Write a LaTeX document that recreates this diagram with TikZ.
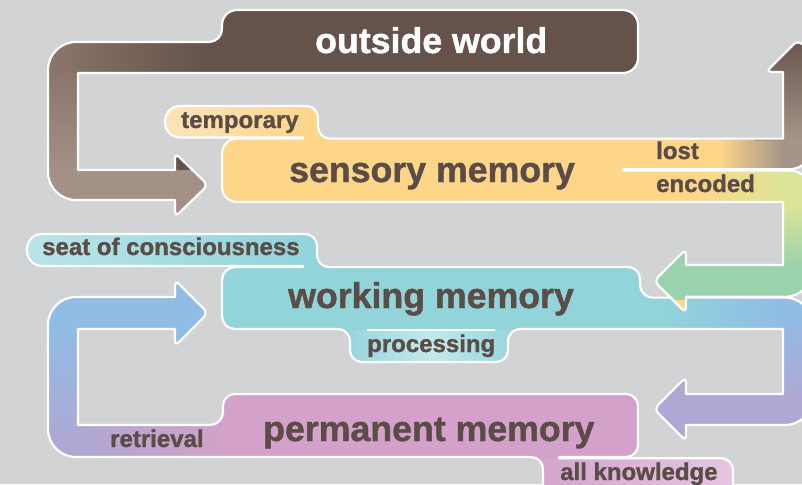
\documentclass[tikz,border=0pt]{standalone}
\usepackage{fontspec}
\setmainfont{Liberation Sans}[BoldFeatures={FakeBold=1.2}]
\definecolor{bg}{HTML}{D2D3D5}
\definecolor{brownD}{HTML}{65524A}
\definecolor{brownM}{HTML}{8A766B}
\definecolor{brownL}{HTML}{A39187}
\definecolor{sens}{HTML}{FDD68A}
\definecolor{tempL}{HTML}{FCE5BC}
\definecolor{lostL}{HTML}{A69489}
\definecolor{encY}{HTML}{DCE597}
\definecolor{grn}{HTML}{99D2AC}
\definecolor{teal}{HTML}{91D4DA}
\definecolor{seatL}{HTML}{BBE5E9}
\definecolor{procA}{HTML}{98D6DB}
\definecolor{procL}{HTML}{C3E8EB}
\definecolor{blu}{HTML}{90BCE6}
\definecolor{lav}{HTML}{AEA8D4}
\definecolor{pnk}{HTML}{D3A1C9}
\definecolor{akA}{HTML}{D5A6CC}
\definecolor{akL}{HTML}{E6C6E0}
\definecolor{txt}{HTML}{5B4C47}
\begin{document}
\begin{tikzpicture}[x=1pt,y=-1pt,
  outl/.style={draw=white, line width=2.2pt, line join=round},
  lbl/.style={anchor=base west, inner sep=0pt, text=txt, font=\bfseries\fontsize{24}{28}\selectfont},
  big/.style={anchor=base west, inner sep=0pt, text=txt, font=\bfseries\fontsize{35.7}{40}\selectfont},
  brownfill/.style={path picture={
     \fill[brownD] (0,0) rectangle (850,500);
     \shade[left color=brownM, right color=brownD] (48,30) rectangle (205,73.5);
     \shade[top color=brownM, bottom color=brownL] (40,73.5) rectangle (78,170);
     \fill[brownL] (40,170) rectangle (215,225);
  }},
  sensfill/.style={path picture={
     \fill[sens] (0,0) rectangle (850,500);
     \shade[left color=tempL, right color=sens] (160,100) rectangle (312,138);
     \shade[left color=sens, right color=lostL] (720,130) rectangle (783,169.9);
     \fill[lostL] (783,138) rectangle (840,169.9);
     \shade[top color=brownD, bottom color=lostL] (755,35) rectangle (840,140);
     \shade[left color=sens, right color=encY] (700,169.9) rectangle (783,205);
     \fill[grn] (640,240) rectangle (840,300);
     \fill[encY] (783,169.9) rectangle (840,202);
     \shade[top color=encY, bottom color=grn] (783,202) rectangle (840,268);
  }},
  wmfill/.style={path picture={
     \fill[teal] (0,0) rectangle (850,500);
     \shade[left color=seatL, right color=teal] (20,228) rectangle (312,266.5);
     \shade[left color=procA, right color=procA, middle color=procL] (350,330.5) rectangle (510,365);
     \shade[left color=teal, right color=blu] (665,290) rectangle (783,335);
     \fill[blu] (783,290) rectangle (840,312);
     \shade[top color=blu, bottom color=lav] (783,312) rectangle (840,400);
     \fill[lav] (640,370) rectangle (783,450);
     \fill[lav] (783,400) rectangle (840,450);
  }},
  permfill/.style={path picture={
     \fill[pnk] (0,0) rectangle (850,500);
     \fill[blu] (40,270) rectangle (215,350);
     \shade[top color=blu, bottom color=lav] (40,329) rectangle (78,440);
     \fill[lav] (40,440) rectangle (78,460);
     \shade[left color=lav, right color=pnk] (78,420) rectangle (222,460);
     \shade[left color=akA, right color=akL] (543,458.5) rectangle (735,500);
  }}
]
\useasboundingbox (0,0) rectangle (802,484);
\clip (0,0) rectangle (802,484);
\fill[bg] (0,0) rectangle (802,484);

% outside world + arrow to sensory memory
\path[outl, brownfill] (400,10)
  [rounded corners=15pt] -- (638,10)
  [rounded corners=15pt] -- (638,73)
  [sharp corners] -- (78,73) -- (78,170) -- (175,170)
  [rounded corners=5pt] -- (175,153)
  [rounded corners=6pt] -- (208,185)
  [rounded corners=5pt] -- (175,217)
  [sharp corners] -- (175,200)
  [rounded corners=28pt] -- (48,200)
  [rounded corners=28pt] -- (48,42)
  [rounded corners=13pt] -- (222,42)
  [rounded corners=15pt] -- (222,10)
  [sharp corners] -- cycle;

% working memory + blue arrow
\path[outl, wmfill] (150,234)
  [rounded corners=12pt] -- (317,234)
  [rounded corners=12pt] -- (317,267.1)
  [rounded corners=12pt] -- (640,267.1)
  [rounded corners=13pt] -- (640,297.6)
  [rounded corners=28pt] -- (813,297.6)
  [rounded corners=28pt] -- (813,425)
  [sharp corners] -- (686,425)
  [rounded corners=5pt] -- (686,441)
  [rounded corners=6pt] -- (654,409)
  [rounded corners=5pt] -- (686,377)
  [sharp corners] -- (686,394) -- (783,394) -- (783,329)
  [rounded corners=12pt] -- (508,329)
  [rounded corners=12pt] -- (508,362)
  [rounded corners=12pt] -- (350,362)
  [rounded corners=12pt] -- (350,329)
  [rounded corners=13pt] -- (222,329)
  [rounded corners=13pt] -- (222,267.1)
  [sharp corners] -- (303,267.1) -- (303,265.9)
  [rounded corners=15pt] -- (27,265.9)
  [rounded corners=15pt] -- (27,234)
  [sharp corners] -- cycle;
\draw[white, line width=2.8pt] (367,330) -- (495,330);

% sensory memory + lost + encoded
\path[outl, sensfill] (250,106)
  [rounded corners=12pt] -- (318,106)
  [rounded corners=12pt] -- (318,138.6)
  [sharp corners] -- (783,138.6) -- (783,72)
  [rounded corners=5pt] -- (766,72)
  [rounded corners=6pt] -- (798,40)
  [rounded corners=5pt] -- (830,72)
  [sharp corners] -- (813,72)
  [rounded corners=24pt] -- (813,169.3)
  [sharp corners] -- (623,169.3) -- (623,170.5)
  [rounded corners=24pt] -- (813,170.5)
  [rounded corners=28pt] -- (813,296.8)
  [sharp corners] -- (686,296.8)
  [rounded corners=5pt] -- (686,313)
  [rounded corners=6pt] -- (654,281)
  [rounded corners=5pt] -- (686,249)
  [sharp corners] -- (686,265) -- (783,265) -- (783,202)
  [rounded corners=15pt] -- (222,202)
  [rounded corners=15pt] -- (222,138.6)
  [sharp corners] -- (303,138.6) -- (303,137.4)
  [rounded corners=15pt] -- (165,137.4)
  [rounded corners=15pt] -- (165,106)
  [sharp corners] -- cycle;

% permanent memory + retrieval arrow
\path[outl, permfill] (400,394)
  [rounded corners=12pt] -- (638,394)
  [rounded corners=12pt] -- (638,457)
  [sharp corners] -- (559,457) -- (559,458.2)
  [rounded corners=12pt] -- (733,458.2)
  [sharp corners] -- (733,495) -- (543,495)
  [rounded corners=12pt] -- (543,457)
  [rounded corners=28pt] -- (48,457)
  [rounded corners=28pt] -- (48,297)
  [sharp corners] -- (175,297)
  [rounded corners=5pt] -- (175,280)
  [rounded corners=6pt] -- (208,313)
  [rounded corners=5pt] -- (175,346)
  [sharp corners] -- (175,329) -- (78,329) -- (78,425)
  [rounded corners=13pt] -- (223,425)
  [rounded corners=12pt] -- (223,394)
  [sharp corners] -- cycle;

% labels
\node[big, text=white] (ow) at (315,53) {outside world};
\node[lbl] (tmp) at (181,128) {temporary};
\node[big] (sm) at (289,182) {sensory memory};
\node[lbl] (lost) at (656,159) {lost};
\node[lbl] (enc) at (656,192) {encoded};
\node[lbl] (seat) at (42,255) {seat of consciousness};
\node[big] (wm) at (288,308) {working memory};
\node[lbl] (proc) at (367,352) {processing};
\node[big] (pm) at (263,441) {permanent memory};
\node[lbl] (ret) at (110,447) {retrieval};
\node[lbl] (ak) at (560,480) {all knowledge};
\end{tikzpicture}
\end{document}
